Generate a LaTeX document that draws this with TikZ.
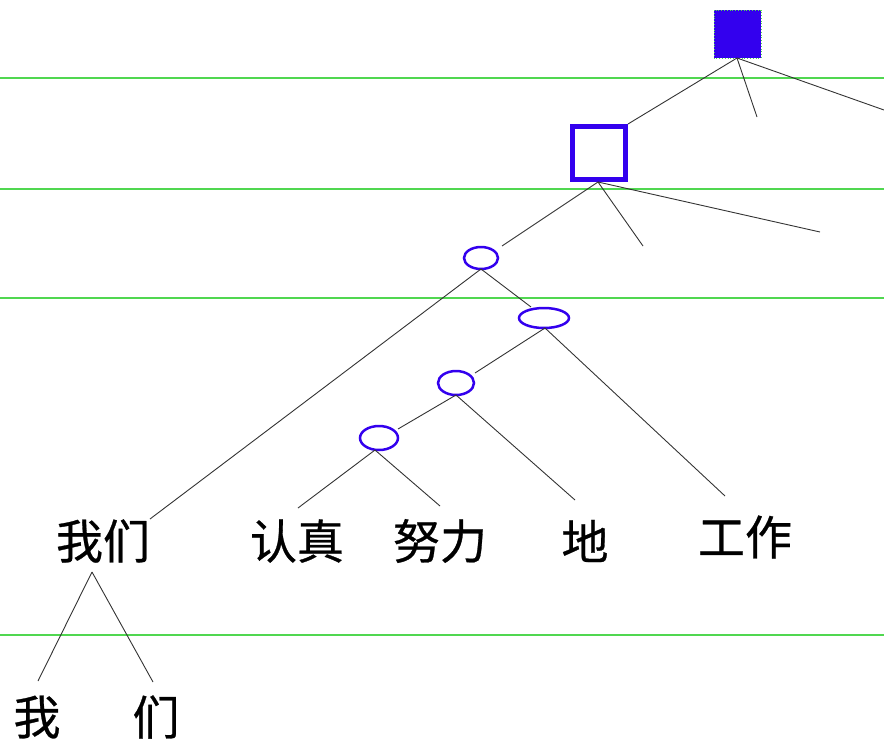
\documentclass[tikz,border=0pt]{standalone}
\usepackage{fontspec}
\newfontfamily\cjk[FakeBold=0.6]{Noto Sans CJK SC}
\definecolor{nodeblue}{RGB}{51,0,238}
\definecolor{guide}{RGB}{80,215,80}
\begin{document}
\begin{tikzpicture}[x=1pt,y=-1pt,
  guideline/.style={draw=guide,line width=1.2pt},
  edge/.style={draw=black!80,line width=0.9pt},
  ovalline/.style={draw=nodeblue,line width=2.5pt},
  word/.style={font=\cjk\fontsize{47}{47}\selectfont,inner sep=0pt,anchor=center}
]
\useasboundingbox (0,0) rectangle (884,742);
% guide lines
\foreach \yy/\nm in {78/g1,189/g2,298/g3,635/g4}{
  \coordinate (\nm l) at (0,\yy); \coordinate (\nm r) at (884,\yy);
  \draw[guideline] (\nm l) -- (\nm r);
}
% filled square
\path[fill=nodeblue,draw=guide,dotted,line width=0.8pt] (714,10) rectangle (761,58);
\coordinate (top) at (737,58);
\coordinate (topm) at (757,117);
\coordinate (topr) at (884,110);
% outlined square
\draw[nodeblue,line width=5.5pt] (572.5,126.5) rectangle (625.5,179.5);
\coordinate (sqtr) at (628,124);
\coordinate (sqb) at (598,182);
\coordinate (sqm) at (643,246);
\coordinate (sqr) at (820,232);
% ellipses
\draw[ovalline] (481,258) ellipse [x radius=17,y radius=11];
\draw[ovalline] (544,318) ellipse [x radius=25,y radius=10];
\draw[ovalline] (456,383) ellipse [x radius=18,y radius=12];
\draw[ovalline] (379,438) ellipse [x radius=19,y radius=12];
\coordinate (e1tr) at (502,246);
\coordinate (e1b) at (481,269);
\coordinate (e2tl) at (531,307);
\coordinate (e2b) at (545,328);
\coordinate (e3tr) at (475,373);
\coordinate (e3b) at (456,395);
\coordinate (e4tr) at (398,429);
\coordinate (e4b) at (375,450);
% words
\node[word] (women) at (103,541) {我们};
\node[word] (renzhen) at (297,541) {认真};
\node[word] (nuli) at (440,541) {努力};
\node[word] (de) at (585,541) {地};
\node[word] (gongzuo) at (745,537) {工作};
\node[word] (wo) at (37,717) {我};
\node[word] (men) at (156,717) {们};
\coordinate (womentop) at (150,519);
\coordinate (renzhentop) at (298,508);
\coordinate (nulitop) at (440,506);
\coordinate (detop) at (575,500);
\coordinate (gongzuotop) at (725,496);
\coordinate (womenbot) at (92,572);
\coordinate (wotop) at (38,681);
\coordinate (mentop) at (153,682);
% edges
\draw[edge] (top) -- (sqtr);
\draw[edge] (top) -- (topm);
\draw[edge] (top) -- (topr);
\draw[edge] (sqb) -- (e1tr);
\draw[edge] (sqb) -- (sqm);
\draw[edge] (sqb) -- (sqr);
\draw[edge] (e1b) -- (womentop);
\draw[edge] (e1b) -- (e2tl);
\draw[edge] (e2b) -- (e3tr);
\draw[edge] (e2b) -- (gongzuotop);
\draw[edge] (e3b) -- (e4tr);
\draw[edge] (e3b) -- (detop);
\draw[edge] (e4b) -- (renzhentop);
\draw[edge] (e4b) -- (nulitop);
\draw[edge] (womenbot) -- (wotop);
\draw[edge] (womenbot) -- (mentop);
\end{tikzpicture}
\end{document}
